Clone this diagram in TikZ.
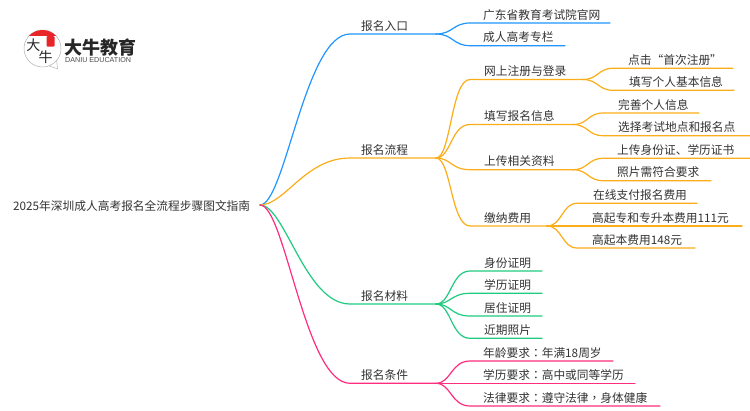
\documentclass[tikz,border=0pt]{standalone}
\usepackage{fontspec}
\setmainfont{Noto Sans CJK SC}
\newfontfamily\punct{Noto Sans CJK TC}
\newfontfamily\logosans{Liberation Sans}
\definecolor{cblue}{HTML}{2196FF}
\definecolor{corange}{HTML}{FBAE17}
\definecolor{cgreen}{HTML}{1FCB80}
\definecolor{cpink}{HTML}{FF2D7F}
\definecolor{ink}{HTML}{333333}
\definecolor{logored}{HTML}{E8262A}
\tikzset{
  lab/.style={inner sep=0pt,anchor=west,text=ink,font=\fontsize{11.72}{14}\selectfont},
  edge/.style={line width=1.2pt,line cap=round}
}
\newcommand{\tp}[6]{%
  \coordinate (#1-s) at (#2,-#4);
  \coordinate (#1-e) at (#3,-#4);
  \node[lab] (#1) at (#5,-#4+8.4) {#6};
}
\newcommand{\conn}[5]{%
  \draw[edge,#1] (#2-e) .. controls +(#4,0) and +(-#5,0) .. (#3-s) -- (#3-e);
}
\begin{document}
\begin{tikzpicture}[x=1pt,y=1pt]
\useasboundingbox (0,0) rectangle (750,-410);
\fill[white] (0,0) rectangle (750,-410);
% root
\coordinate (root-e) at (260,-205);
\node[lab] (root) at (13,-205.8) {2025年深圳成人高考报名全流程步骤图文指南};
% level 1
\tp{a}{350}{436}{34}{361}{报名入口}
\tp{b}{350}{436}{158}{361}{报名流程}
\tp{c}{350}{436}{304}{361}{报名材料}
\tp{d}{350}{436}{383.3}{361}{报名条件}
% blue children
\tp{a1}{470}{610}{23}{483}{广东省教育考试院官网}
\tp{a2}{470}{565}{45.7}{483}{成人高考专栏}
% orange children
\tp{b1}{470}{583}{79.5}{484}{网上注册与登录}
\tp{b2}{470}{573}{124.5}{484}{填写报名信息}
\tp{b3}{470}{573}{169.7}{484}{上传相关资料}
\tp{b4}{470}{547}{226}{484}{缴纳费用}
\tp{b1x}{613}{733}{68.3}{628}{点击“首次注册”}
\tp{b1y}{613}{734}{90.3}{629}{填写个人基本信息}
\tp{b2x}{603}{699}{113}{618}{完善个人信息}
\tp{b2y}{603}{750}{135.7}{618}{选择考试地点和报名点}
\tp{b3x}{603}{750}{158.3}{617}{上传身份证、学历证书}
\tp{b3y}{603}{711}{180.7}{617}{照片需符合要求}
\tp{b4x}{577}{697}{203.3}{593}{在线支付报名费用}
\tp{b4y}{577}{742}{226}{592}{高起专和专升本费用111元}
\tp{b4z}{577}{695}{248}{592}{高起本费用148元}
% green children
\tp{c1}{470}{542}{271}{484}{身份证明}
\tp{c2}{470}{542}{293.3}{484}{学历证明}
\tp{c3}{470}{542}{316}{484}{居住证明}
\tp{c4}{470}{542}{338.3}{484}{近期照片}
% pink children
\tp{d1}{470}{613}{361}{483}{年龄要求{\punct ：}年满18周岁}
\tp{d2}{470}{635}{383.3}{483}{学历要求{\punct ：}高中或同等学历}
\tp{d3}{470}{660}{406}{483}{法律要求{\punct ：}遵守法律{\punct ，}身体健康}
% connectors
\conn{cblue}{root}{a}{25}{45}
\conn{corange}{root}{b}{25}{45}
\conn{cgreen}{root}{c}{25}{45}
\conn{cpink}{root}{d}{25}{45}
\conn{cblue}{a}{a1}{17}{17}
\conn{cblue}{a}{a2}{17}{17}
\conn{corange}{b}{b1}{15}{19}
\conn{corange}{b}{b2}{15}{19}
\conn{corange}{b}{b3}{15}{19}
\conn{corange}{b}{b4}{15}{19}
\conn{corange}{b1}{b1x}{15}{15}
\conn{corange}{b1}{b1y}{15}{15}
\conn{corange}{b2}{b2x}{15}{15}
\conn{corange}{b2}{b2y}{15}{15}
\conn{corange}{b3}{b3x}{15}{15}
\conn{corange}{b3}{b3y}{15}{15}
\conn{corange}{b4}{b4x}{15}{15}
\conn{corange}{b4}{b4y}{15}{15}
\conn{corange}{b4}{b4z}{15}{15}
\conn{cgreen}{c}{c1}{15}{19}
\conn{cgreen}{c}{c2}{15}{19}
\conn{cgreen}{c}{c3}{15}{19}
\conn{cgreen}{c}{c4}{15}{19}
\conn{cpink}{d}{d1}{15}{19}
\conn{cpink}{d}{d2}{15}{19}
\conn{cpink}{d}{d3}{15}{19}
% logo
\draw[line width=0.5pt,black!30,fill=white] (56.7,-60.4) arc[start angle=-40,end angle=-430,radius=18.5] -- (57.5,-68.8) -- cycle;
\begin{scope}
\clip (42.5,-48.5) circle (18.5);
\fill[logored] (20,-28) rectangle (65,-35.5);
\end{scope}
\fill[logored,rounded corners=1pt] (46.5,-36) rectangle (54.5,-46.5);
\node[inner sep=0pt,text=black!85,font=\fontsize{14}{14}\selectfont] (logoa) at (33.5,-45) {大};
\node[inner sep=0pt,text=black!85,font=\fontsize{14}{14}\selectfont] (logob) at (45.5,-57.5) {牛};
\node[inner sep=0pt,anchor=west,text=black!85,font=\fontsize{18}{18}\selectfont\bfseries] (logoc) at (64,-47.5) {大牛教育};
\node[inner sep=0pt,anchor=west,text=black!70,font=\logosans\fontsize{7.15}{8}\selectfont] (logod) at (65,-60.5) {DANIU EDUCATION};
\end{tikzpicture}
\end{document}
